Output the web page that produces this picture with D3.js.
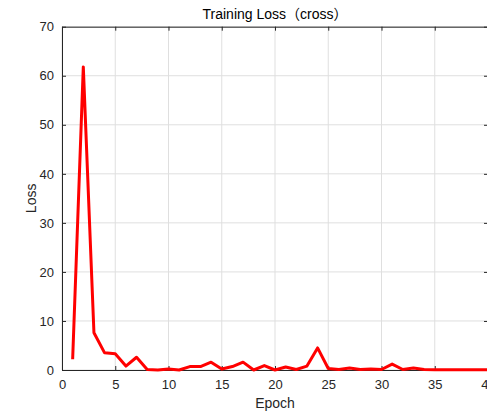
<!DOCTYPE html>
<html><head><meta charset="utf-8">
<script src="https://cdn.jsdelivr.net/npm/d3@7"></script>
<style>body{margin:0;background:#fff;}svg{display:block;}</style>
</head><body>
<svg id="c" width="487" height="412"></svg>
<script>
const epochs = d3.range(1, 41);
const loss = [2.2, 61.8, 7.6, 3.5, 3.3, 0.8, 2.6, 0.1, 0.0, 0.2,
              0.0, 0.7, 0.7, 1.6, 0.2, 0.7, 1.6, 0.0, 0.9, 0.0,
              0.6, 0.1, 0.8, 4.5, 0.3, 0.1, 0.4, 0.1, 0.2, 0.1,
              1.2, 0.1, 0.4, 0.1, 0.05, 0.05, 0.05, 0.05, 0.05, 0.05];
const xTicks = [0, 5, 10, 15, 20, 25, 30, 35, 40];
const yTicks = [0, 10, 20, 30, 40, 50, 60, 70];
const titleText = "Training  Loss（cross）";
const xLabel = "Epoch", yLabel = "Loss";

const svg = d3.select("#c");
const L = 62, R = 488, T = 26.7, B = 370;
const x = d3.scaleLinear().domain([0, 40]).range([L, R]);
const y = d3.scaleLinear().domain([0, 70]).range([B, T]);
const axisCol = "#262626";
const font = "'Liberation Sans', Arial, 'Noto Sans CJK SC', sans-serif";

// grid
const g = svg.append("g");
g.selectAll(".vx").data(xTicks).join("line")
  .attr("x1", d => x(d)).attr("x2", d => x(d)).attr("y1", T).attr("y2", B)
  .attr("stroke", "#dfdfdf").attr("stroke-width", 1);
g.selectAll(".hy").data(yTicks).join("line")
  .attr("x1", L).attr("x2", R).attr("y1", d => y(d)).attr("y2", d => y(d))
  .attr("stroke", "#dfdfdf").attr("stroke-width", 1);

// axes
const xa = svg.append("g").attr("transform", `translate(0,${B})`)
  .call(d3.axisBottom(x).tickValues(xTicks).tickSizeInner(-4).tickSizeOuter(0).tickPadding(10));
const xt = svg.append("g").attr("transform", `translate(0,${T})`)
  .call(d3.axisTop(x).tickValues(xTicks).tickSizeInner(-4).tickSizeOuter(0).tickFormat(""));
const ya = svg.append("g").attr("transform", `translate(${L},0)`)
  .call(d3.axisLeft(y).tickValues(yTicks).tickSizeInner(-4).tickSizeOuter(0).tickPadding(8));
const yr = svg.append("g").attr("transform", `translate(${R},0)`)
  .call(d3.axisRight(y).tickValues(yTicks).tickSizeInner(-4).tickSizeOuter(0).tickFormat(""));
[xa, xt, ya, yr].forEach(a => {
  a.selectAll("path").attr("stroke", axisCol).attr("stroke-width", 1);
  a.selectAll("line").attr("stroke", axisCol);
  a.selectAll("text").attr("fill", axisCol).style("font-family", font).style("font-size", "13px");
});

// line
svg.append("path").datum(loss)
  .attr("fill", "none").attr("stroke", "#ff0000").attr("stroke-width", 3)
  .attr("stroke-linejoin", "round")
  .attr("d", d3.line().x((d, i) => x(epochs[i])).y(d => y(d)));

// labels
svg.append("text").attr("x", (L + R) / 2).attr("y", 19).attr("text-anchor", "middle")
  .attr("fill", "#000").style("font-family", font).style("font-size", "14px").text(titleText);
svg.append("text").attr("x", (L + R) / 2).attr("y", 408).attr("text-anchor", "middle")
  .attr("fill", axisCol).style("font-family", font).style("font-size", "14px").text(xLabel);
svg.append("text").attr("transform", `translate(36,${(T + B) / 2}) rotate(-90)`).attr("text-anchor", "middle")
  .attr("fill", axisCol).style("font-family", font).style("font-size", "14px").text(yLabel);
</script>
</body></html>
